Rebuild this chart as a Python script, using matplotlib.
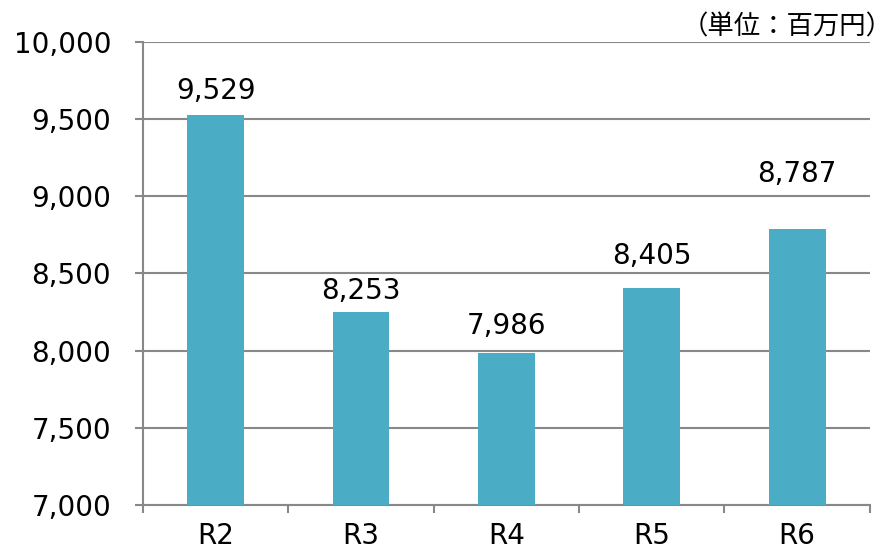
import matplotlib
matplotlib.use("Agg")
import matplotlib.pyplot as plt
from matplotlib.ticker import FuncFormatter, FixedLocator

plt.rcParams['font.family'] = ['DejaVu Sans', 'Noto Sans CJK JP']

# データ
years = ["R2", "R3", "R4", "R5", "R6"]
values = [9529, 8253, 7986, 8405, 8787]
# ラベルとバー上端の間隔 (px)
label_gap = [16, 13, 19, 24, 47]

bar_color = "#4BACC6"
grid_color = "#888888"

fig = plt.figure(figsize=(8.94, 5.48), dpi=100)
ax = fig.add_axes([0.16, 0.0785, 0.813, 0.845])

x = list(range(len(years)))
ax.bar(x, values, width=0.39, color=bar_color, zorder=3)

for xi, v, g in zip(x, values, label_gap):
    ax.annotate("{:,}".format(v), xy=(xi, v), xytext=(0, g), textcoords="offset pixels",
                ha="center", va="baseline", fontsize=20)

ax.set_ylim(7000, 10000)
ax.set_xlim(-0.5, len(years) - 0.5)
ax.set_yticks(range(7000, 10001, 500))
ax.yaxis.set_major_formatter(FuncFormatter(lambda v, p: "{:,}".format(int(v))))
ax.grid(axis="y", color=grid_color, linewidth=1.5, zorder=0)

ax.set_xticks(x)
ax.set_xticklabels(years, fontsize=20)
ax.xaxis.set_minor_locator(FixedLocator([i + 0.5 for i in range(-1, len(years))]))
ax.tick_params(axis="x", which="major", length=0, pad=12)
ax.tick_params(axis="x", which="minor", length=6, width=1.5, color=grid_color)
ax.tick_params(axis="y", length=6, width=1.5, color=grid_color, labelsize=20, pad=17)

for s in ["top", "right"]:
    ax.spines[s].set_visible(False)
for s in ["left", "bottom"]:
    ax.spines[s].set_color(grid_color)
    ax.spines[s].set_linewidth(1.5)

fig.text(0.999, 0.975, "（単位：百万円）", ha="right", va="top", fontsize=19,
         family=['Noto Sans CJK JP', 'DejaVu Sans'])

fig.savefig("out.png", dpi=100)
